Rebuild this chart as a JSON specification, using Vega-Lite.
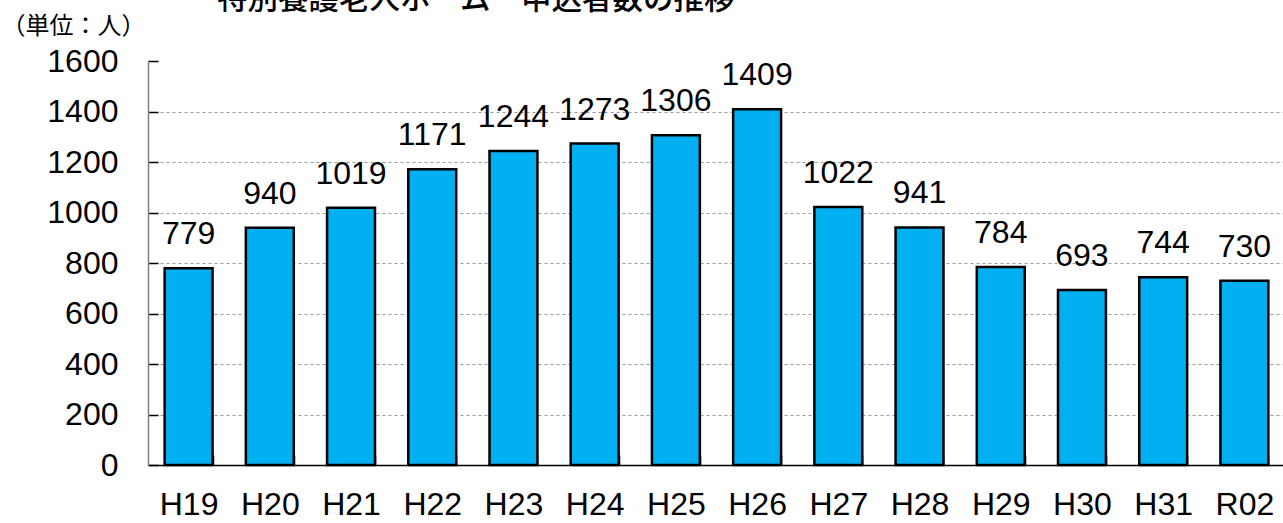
{
  "$schema": "https://vega.github.io/schema/vega-lite/v6.json",
  "width": 1137,
  "height": 404,
  "autosize": {"type": "none"},
  "padding": {"left": 148, "top": 61, "right": 0, "bottom": 58},
  "background": "white",
  "title": {
    "text": "特別養護老人ホーム　申込者数の推移",
    "font": "Noto Sans CJK JP",
    "fontSize": 30.5,
    "fontWeight": 500,
    "color": "black",
    "anchor": "start",
    "frame": "group",
    "dx": 69,
    "baseline": "bottom",
    "offset": -31
  },
  "data": {
    "values": [
      {"year": "H19", "count": 779},
      {"year": "H20", "count": 940},
      {"year": "H21", "count": 1019},
      {"year": "H22", "count": 1171},
      {"year": "H23", "count": 1244},
      {"year": "H24", "count": 1273},
      {"year": "H25", "count": 1306},
      {"year": "H26", "count": 1409},
      {"year": "H27", "count": 1022},
      {"year": "H28", "count": 941},
      {"year": "H29", "count": 784},
      {"year": "H30", "count": 693},
      {"year": "H31", "count": 744},
      {"year": "R02", "count": 730}
    ]
  },
  "encoding": {
    "x": {
      "field": "year",
      "type": "nominal",
      "sort": null,
      "scale": {"paddingInner": 0.41, "paddingOuter": 0.205},
      "axis": {
        "title": null,
        "labelAngle": 0,
        "labelFont": "Liberation Sans",
        "labelFontSize": 32,
        "labelColor": "black",
        "labelPadding": 34,
        "tickBand": "extent",
        "tickSize": -10,
        "tickColor": "black",
        "tickWidth": 1.5,
        "domainColor": "black",
        "domainWidth": 1.5
      }
    },
    "y": {
      "field": "count",
      "type": "quantitative",
      "scale": {"domain": [0, 1600], "nice": false},
      "axis": {
        "title": "（単位：人）",
        "titleFont": "Noto Sans CJK JP",
        "titleFontSize": 24,
        "titleFontWeight": "normal",
        "titleColor": "black",
        "titleAngle": 0,
        "titleAlign": "left",
        "titleBaseline": "middle",
        "titleX": -147,
        "titleY": -35,
        "values": [0, 200, 400, 600, 800, 1000, 1200, 1400, 1600],
        "format": "d",
        "labelFont": "Liberation Sans",
        "labelFontSize": 32,
        "labelColor": "black",
        "labelPadding": 40,
        "tickSize": -10,
        "tickColor": "black",
        "tickWidth": 1.5,
        "domainColor": "#808080",
        "domainWidth": 1.5,
        "grid": true,
        "gridColor": "#999999",
        "gridDash": [3, 3],
        "gridWidth": 1,
        "gridOpacity": {"condition": {"test": "datum.value == 1600 || datum.value == 0", "value": 0}, "value": 1}
      }
    }
  },
  "layer": [
    {
      "mark": {"type": "bar", "color": "#00B0F0", "stroke": "black", "strokeWidth": 2.5}
    },
    {
      "mark": {"type": "text", "baseline": "bottom", "dy": -17, "font": "Liberation Sans", "fontSize": 32, "color": "black"},
      "encoding": {"text": {"field": "count", "type": "quantitative", "format": "d"}}
    }
  ],
  "config": {"view": {"stroke": null}}
}
